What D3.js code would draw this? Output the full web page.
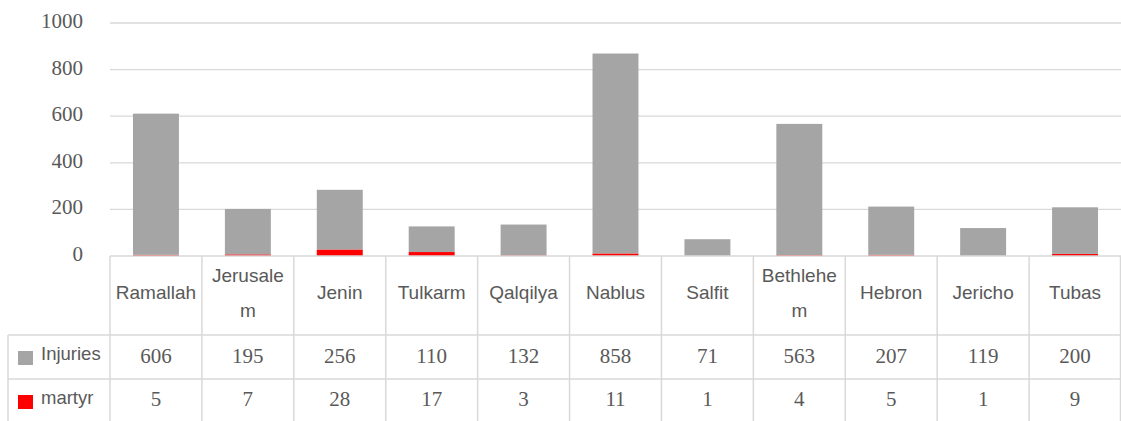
<!DOCTYPE html>
<html><head><meta charset="utf-8">
<script src="https://cdn.jsdelivr.net/npm/d3@7"></script>
<style>body{margin:0;background:#fff}svg{display:block}</style>
</head><body>
<svg id="c" width="1121" height="421"></svg>
<script>
const categories = ["Ramallah","Jerusalem","Jenin","Tulkarm","Qalqilya","Nablus","Salfit","Bethlehem","Hebron","Jericho","Tubas"];
const labelLines = [["Ramallah"],["Jerusale","m"],["Jenin"],["Tulkarm"],["Qalqilya"],["Nablus"],["Salfit"],["Bethlehe","m"],["Hebron"],["Jericho"],["Tubas"]];
const injuries = [606,195,256,110,132,858,71,563,207,119,200];
const martyr = [5,7,28,17,3,11,1,4,5,1,9];
const yTicks = [0,200,400,600,800,1000];
const seriesNames = ["Injuries","martyr"];
const seriesColors = ["#a5a5a5","#ff0000"];

(function(){
const svg = d3.select("#c");
const pLeft = 110, pRight = 1121, pTop = 23, pBase = 256;
const x = d3.scaleBand().domain(categories).range([pLeft, pRight]).paddingInner(0.5).paddingOuter(0.25);
const xb = d3.scaleBand().domain(categories).range([pLeft, pRight]).padding(0);
const y = d3.scaleLinear().domain([0,1000]).range([pBase, pTop]);
const grid = "#d9d9d9", txt = "#595959";
const sans = "Liberation Sans, Arial, sans-serif", serif = "Liberation Serif, 'Times New Roman', serif";

svg.append("g").selectAll("line").data(yTicks.filter(d=>d>0)).join("line")
  .attr("x1", pLeft).attr("x2", pRight).attr("y1", d=>y(d)).attr("y2", d=>y(d))
  .attr("stroke", grid).attr("stroke-width", 1.3);
svg.append("g").selectAll("text").data(yTicks).join("text")
  .attr("x", 83).attr("y", d=>y(d)+5).attr("text-anchor","end")
  .attr("font-family",serif).attr("font-size",21).attr("fill",txt).text(d=>d);

const stackData = categories.map((c,i)=>({cat:c, martyr:martyr[i], injuries:injuries[i]}));
const stack = d3.stack().keys(["martyr","injuries"])(stackData);
const colorFor = {martyr:seriesColors[1], injuries:seriesColors[0]};
svg.append("g").selectAll("g").data(stack).join("g").attr("fill", s=>colorFor[s.key])
  .selectAll("rect").data(s=>s).join("rect")
  .attr("x", d=>x(d.data.cat)).attr("width", x.bandwidth())
  .attr("y", d=>y(d[1])).attr("height", d=>y(d[0])-y(d[1]));

const r0 = 256, r1 = 335, r2 = 379, r3 = 421, tl = 8;
const tg = svg.append("g").attr("stroke", grid).attr("stroke-width", 1.5);
tg.append("line").attr("x1",pLeft).attr("x2",pRight).attr("y1",r0).attr("y2",r0);
[r1,r2].forEach(v=>tg.append("line").attr("x1",tl).attr("x2",pRight).attr("y1",v).attr("y2",v));
tg.append("line").attr("x1",tl).attr("x2",tl).attr("y1",r1).attr("y2",r3);
tg.selectAll("line.v").data(categories.concat(["_end"])).join("line").attr("class","v")
  .attr("x1",(d,i)=> i<categories.length ? xb(d) : pRight-0.5)
  .attr("x2",(d,i)=> i<categories.length ? xb(d) : pRight-0.5)
  .attr("y1", r0).attr("y2", r3);

const hg = svg.append("g").attr("font-family",sans).attr("font-size",19).attr("fill",txt).attr("text-anchor","middle");
categories.forEach((c,i)=>{
  const lines = labelLines[i];
  const cx = xb(c)+xb.bandwidth()/2;
  const base1 = lines.length === 1 ? 299 : 282;
  lines.forEach((ln,j)=>{
    hg.append("text").attr("x",cx).attr("y", base1 + j*35).text(ln);
  });
});
const vg = svg.append("g").attr("font-family",serif).attr("font-size",21).attr("fill",txt).attr("text-anchor","middle");
[injuries, martyr].forEach((arr,k)=>{
  const by = k===0 ? 363 : 406;
  arr.forEach((v,i)=>{
    vg.append("text").attr("x", xb(categories[i])+xb.bandwidth()/2).attr("y", by).text(v);
  });
});
seriesNames.forEach((n,k)=>{
  const by = k===0 ? 360 : 404;
  svg.append("rect").attr("x",18).attr("y",by-9).attr("width",15).attr("height",14).attr("fill",seriesColors[k]);
  svg.append("text").attr("x",41).attr("y",by)
    .attr("font-family",sans).attr("font-size",18.5).attr("fill",txt).text(n);
});
})();
</script>
</body></html>
